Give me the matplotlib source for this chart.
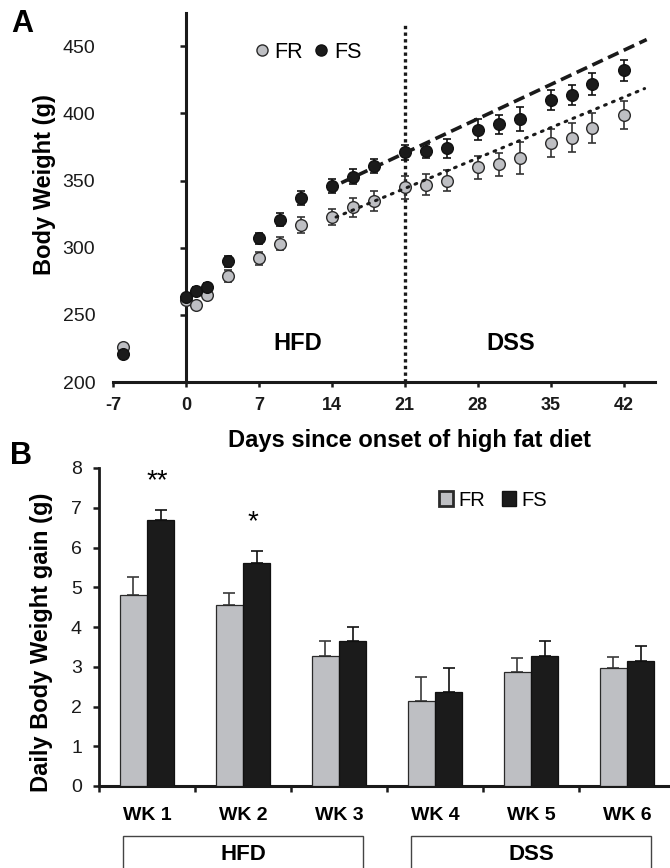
import matplotlib
matplotlib.use("Agg")
import matplotlib.pyplot as plt
from matplotlib.patches import Rectangle, Patch
from matplotlib.lines import Line2D
from matplotlib.transforms import blended_transform_factory
import numpy as np

plt.rcParams['font.family'] = ['Liberation Sans', 'DejaVu Sans']

# ---------------- Panel A data ----------------
days = [-6, 0, 1, 2, 4, 7, 9, 11, 14, 16, 18, 21, 23, 25, 28, 30, 32, 35, 37, 39, 42]
fr_weight = [226, 261, 257, 265, 279, 292, 303, 317, 323, 330, 335, 345, 347, 350, 360, 362, 367, 378, 382, 389, 399]
fr_err = [1, 2, 2, 3.5, 4.5, 5, 5, 6, 6, 7, 7.5, 8.5, 8, 8, 8.5, 8.5, 12, 10.5, 10.5, 11, 10.5]
fs_weight = [221, 263, 268, 271, 290, 307, 321, 337, 346, 353, 361, 371, 372, 374, 388, 392, 396, 410, 414, 422, 432]
fs_err = [1, 2, 2.5, 3, 4, 4, 4.5, 5.5, 5, 5.5, 5, 5.5, 5.5, 7, 7.5, 7, 9, 7.5, 7.5, 8, 8]
trend_days_fs = [14.9, 44.2]
trend_fs = [348.3, 455.0]
trend_days_fr = [14.4, 44.0]
trend_fr = [322.8, 418.5]
dss_start_day = 21
xticks_a = [-7, 0, 7, 14, 21, 28, 35, 42]
yticks_a = [200, 250, 300, 350, 400, 450]
phase_labels_a = ['HFD', 'DSS']
phase_label_days = [10.7, 31.2]
phase_label_y = 229

# ---------------- Panel B data ----------------
weeks = ['WK 1', 'WK 2', 'WK 3', 'WK 4', 'WK 5', 'WK 6']
fr_gain = [4.81, 4.56, 3.28, 2.13, 2.87, 2.98]
fr_gain_err = [0.46, 0.29, 0.36, 0.61, 0.35, 0.26]
fs_gain = [6.69, 5.62, 3.64, 2.37, 3.26, 3.14]
fs_gain_err = [0.25, 0.30, 0.35, 0.59, 0.39, 0.37]
sig_labels = ['**', '*', '', '', '', '']
phases = ['HFD', 'DSS']
phase_spans = [(0.25, 2.75), (3.25, 5.75)]

GRAY = '#BEBFC3'
BLACK = '#1b1b1b'
W, H = 670, 868

fig = plt.figure(figsize=(6.7, 8.68), dpi=100)

# ================= Panel A =================
ax1 = fig.add_axes([113 / W, (H - 382) / H, 542 / W, (382 - 12.7) / H])
ax1.set_xlim(-7, 45)
ax1.set_ylim(200, 475)
for s in ['top', 'right']:
    ax1.spines[s].set_visible(False)
ax1.spines['left'].set_position(('data', 0))
ax1.spines['left'].set_linewidth(2.2)
ax1.spines['bottom'].set_linewidth(2.2)
ax1.spines['left'].set_color('#1a1a1a')
ax1.spines['bottom'].set_color('#1a1a1a')

ax1.set_xticks(xticks_a)
ax1.set_xticklabels([str(t) for t in xticks_a], fontsize=13, fontweight='bold')
ax1.set_yticks(yticks_a)
ax1.set_yticklabels([str(t) for t in yticks_a], fontsize=14)
ax1.tick_params(axis='y', direction='out', length=4.3, width=1.8, pad=61, colors='#1a1a1a')
ax1.tick_params(axis='x', direction='out', length=3.6, width=1.8, pad=7, colors='#1a1a1a')

ax1.axvline(dss_start_day, ymin=0, ymax=(467.6 - 200) / 275, color='#1a1a1a',
            lw=2.4, linestyle=(0, (1.0, 1.0)), zorder=2)

ax1.errorbar(days, fr_weight, yerr=fr_err, fmt='none', ecolor='#333333',
             elinewidth=1.2, capsize=3.2, capthick=1.2, zorder=3)
ax1.errorbar(days, fs_weight, yerr=fs_err, fmt='none', ecolor='#111111',
             elinewidth=1.2, capsize=3.2, capthick=1.2, zorder=3)
ax1.plot(days, fr_weight, 'o', ms=8.4, mfc=GRAY, mec='#2a2a2a', mew=1.0, zorder=4)
ax1.plot(days, fs_weight, 'o', ms=8.4, mfc=BLACK, mec='#111111', mew=1.0, zorder=5)

ax1.plot(trend_days_fs, trend_fs, color='#1a1a1a', lw=2.6, linestyle=(0, (3.2, 1.6)), zorder=6)
ax1.plot(trend_days_fr, trend_fr, color='#1a1a1a', lw=2.2, linestyle=(0, (0.6, 2.2)),
         dash_capstyle='round', zorder=6)

for lab, d in zip(phase_labels_a, phase_label_days):
    ax1.text(d, phase_label_y, lab, fontsize=17, fontweight='bold', ha='center', va='center')

hA = [Line2D([], [], marker='o', ls='none', ms=8, mfc=GRAY, mec='#2a2a2a', mew=1.0),
      Line2D([], [], marker='o', ls='none', ms=8, mfc=BLACK, mec='#111111', mew=1.0)]
ax1.legend(hA, ['FR', 'FS'], ncol=2, frameon=False, fontsize=15.5,
           handlelength=0.5, handletextpad=0.35, columnspacing=0.6,
           loc='center', bbox_to_anchor=(309 / W, (H - 52) / H),
           bbox_transform=fig.transFigure, borderpad=0, borderaxespad=0)

fig.text(45 / W, (H - 185) / H, 'Body Weight (g)', rotation=90, fontsize=17,
         fontweight='bold', ha='center', va='center')
fig.text(409 / W, (H - 440) / H, 'Days since onset of high fat diet', fontsize=17,
         fontweight='bold', ha='center', va='center')
fig.text(22 / W, (H - 24) / H, 'A', fontsize=22, fontweight='bold', ha='center', va='center')
fig.text(21 / W, (H - 456) / H, 'B', fontsize=22, fontweight='bold', ha='center', va='center')

# ================= Panel B =================
ax2 = fig.add_axes([99 / W, (H - 786) / H, 576 / W, (786 - 468) / H])
ax2.set_xlim(0, 6)
ax2.set_ylim(0, 8)
for s in ['top', 'right']:
    ax2.spines[s].set_visible(False)
ax2.spines['left'].set_linewidth(2.0)
ax2.spines['bottom'].set_linewidth(2.2)
ax2.spines['left'].set_color('#1a1a1a')
ax2.spines['bottom'].set_color('#1a1a1a')

x = np.arange(len(weeks)) + 0.5
bw = 0.285
ax2.bar(x - bw / 2, fr_gain, bw, color=GRAY, edgecolor='#2a2a2a', linewidth=0.9, zorder=3)
ax2.bar(x + bw / 2, fs_gain, bw, color=BLACK, edgecolor='#111111', linewidth=0.9, zorder=3)
ax2.errorbar(x - bw / 2, fr_gain, yerr=[np.zeros(6), fr_gain_err], fmt='none',
             ecolor='#3a3a3a', elinewidth=1.2, capsize=4.5, capthick=1.2, zorder=2)
ax2.errorbar(x + bw / 2, fs_gain, yerr=[np.zeros(6), fs_gain_err], fmt='none',
             ecolor='#111111', elinewidth=1.2, capsize=4.5, capthick=1.2, zorder=2)

for xi, g, e, lab in zip(x, fs_gain, fs_gain_err, sig_labels):
    if lab:
        ax2.text(xi + bw / 2 - 0.04, g + e + 0.55, lab, fontsize=20, ha='center', va='baseline')

ax2.set_yticks(range(0, 9))
ax2.set_yticklabels([str(v) for v in range(0, 9)], fontsize=14)
ax2.tick_params(axis='y', direction='out', length=4.3, width=1.8, pad=8, colors='#1a1a1a')
ax2.set_xticks(range(0, 7))
ax2.set_xticklabels([])
ax2.tick_params(axis='x', which='major', direction='out', length=4.3, width=1.8, colors='#1a1a1a')
ax2.set_xticks(x, minor=True)
ax2.set_xticklabels(weeks, minor=True, fontsize=14, fontweight='bold')
ax2.tick_params(axis='x', which='minor', length=0, pad=15)

hB = [Patch(facecolor=GRAY, edgecolor='#2a2a2a', linewidth=2.0),
      Patch(facecolor=BLACK, edgecolor='#111111', linewidth=1.0)]
ax2.legend(hB, ['FR', 'FS'], ncol=2, frameon=False, fontsize=14.5,
           handlelength=0.7, handleheight=0.7, handletextpad=0.3, columnspacing=0.8,
           loc='center', bbox_to_anchor=(493 / W, (H - 500) / H),
           bbox_transform=fig.transFigure, borderpad=0, borderaxespad=0)

fig.text(42 / W, (H - 642) / H, 'Daily Body Weight gain (g)', rotation=90, fontsize=17,
         fontweight='bold', ha='center', va='center')

tr = blended_transform_factory(ax2.transData, fig.transFigure)
for name, (a, b) in zip(phases, phase_spans):
    ax2.add_patch(Rectangle((a, -0.05), b - a, (H - 836) / H + 0.05, transform=tr,
                            facecolor='white', edgecolor='#444444', linewidth=1.0,
                            clip_on=False))
    ax2.text((a + b) / 2, (H - 854) / H, name, transform=tr, fontsize=16,
             fontweight='bold', ha='center', va='center')

fig.savefig('out.png', dpi=100)
